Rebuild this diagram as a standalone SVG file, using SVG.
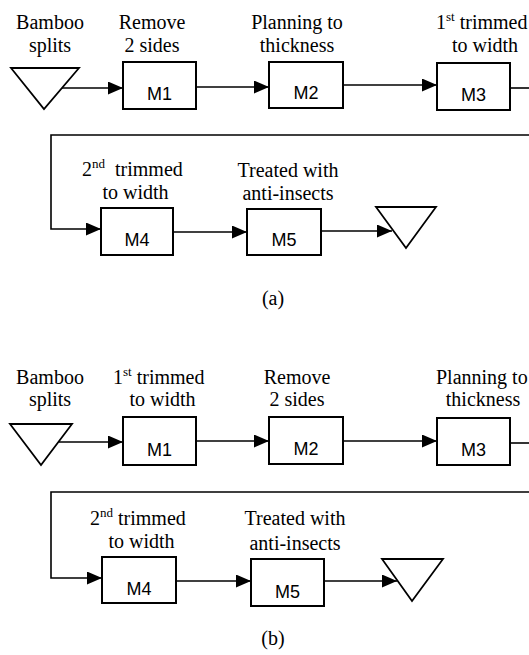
<svg xmlns="http://www.w3.org/2000/svg" width="529" height="655" viewBox="0 0 529 655">
<style>
.box{fill:#fff;stroke:#000;stroke-width:2}
.tri{fill:#fff;stroke:#000;stroke-width:1.8}
.con{fill:none;stroke:#000;stroke-width:1.6}
</style>
<defs>
<marker id="ah" markerUnits="userSpaceOnUse" markerWidth="15" markerHeight="13" refX="15" refY="6.5" orient="auto">
<path d="M0,0 L15,6.5 L0,13 z" fill="#000"/>
</marker>
</defs>
<rect width="529" height="655" fill="#fff"/>

<g id="connectors">
<line class="con" marker-end="url(#ah)" x1="62" y1="88" x2="123" y2="88"/>
<line class="con" marker-end="url(#ah)" x1="196" y1="87" x2="269" y2="87"/>
<line class="con" marker-end="url(#ah)" x1="343" y1="85" x2="437" y2="85"/>
<line class="con" x1="510" y1="88" x2="529" y2="88"/>
<polyline class="con" marker-end="url(#ah)" points="529,135 51,135 51,229 101,229"/>
<line class="con" marker-end="url(#ah)" x1="173" y1="232" x2="247" y2="232"/>
<line class="con" marker-end="url(#ah)" x1="321" y1="231" x2="392" y2="231"/>

<line class="con" marker-end="url(#ah)" x1="59" y1="442" x2="123" y2="442"/>
<line class="con" marker-end="url(#ah)" x1="196" y1="441" x2="269" y2="441"/>
<line class="con" marker-end="url(#ah)" x1="343" y1="441" x2="437" y2="441"/>
<line class="con" x1="510" y1="443" x2="529" y2="443"/>
<polyline class="con" marker-end="url(#ah)" points="529,492 51,492 51,578 102,578"/>
<line class="con" marker-end="url(#ah)" x1="176" y1="581" x2="251" y2="581"/>
<line class="con" marker-end="url(#ah)" x1="324" y1="581" x2="397" y2="581"/>
</g>

<g font-family="'Liberation Serif', 'Times New Roman', serif" font-size="20" fill="#000">
<g id="a-start">
<polygon class="tri" points="11,68 79,68 44,109"/>
<text text-anchor="middle" x="50" y="29">Bamboo</text>
<text text-anchor="middle" x="50" y="52">splits</text>
</g>
<g id="a-M1">
<rect class="box" x="123" y="62" width="73" height="47"/>
<text font-family="'Liberation Sans', Arial, sans-serif" font-size="18" text-anchor="middle" x="159.5" y="100">M1</text>
<text text-anchor="middle" x="152" y="29">Remove</text>
<text text-anchor="middle" x="152" y="52">2 sides</text>
</g>
<g id="a-M2">
<rect class="box" x="269" y="62" width="74" height="46"/>
<text font-family="'Liberation Sans', Arial, sans-serif" font-size="18" text-anchor="middle" x="306" y="99">M2</text>
<text text-anchor="middle" x="297" y="29">Planning to</text>
<text text-anchor="middle" x="297" y="52">thickness</text>
</g>
<g id="a-M3">
<rect class="box" x="437" y="63" width="73" height="47"/>
<text font-family="'Liberation Sans', Arial, sans-serif" font-size="18" text-anchor="middle" x="473.5" y="101">M3</text>
<text x="436" y="29">1<tspan font-size="13" dy="-8">st</tspan><tspan dy="8"> trimmed</tspan></text>
<text text-anchor="middle" x="485" y="52">to width</text>
</g>
<g id="a-M4">
<rect class="box" x="101" y="208" width="72" height="47"/>
<text font-family="'Liberation Sans', Arial, sans-serif" font-size="18" text-anchor="middle" x="137" y="246">M4</text>
<text x="82" y="176">2<tspan font-size="13" dy="-8">nd</tspan><tspan x="115" dy="8">trimmed</tspan></text>
<text text-anchor="middle" x="135.5" y="199">to width</text>
</g>
<g id="a-M5">
<rect class="box" x="247" y="209" width="74" height="46"/>
<text font-family="'Liberation Sans', Arial, sans-serif" font-size="18" text-anchor="middle" x="284" y="246">M5</text>
<text text-anchor="middle" x="288" y="177">Treated with</text>
<text text-anchor="middle" x="288" y="200">anti-insects</text>
</g>
<g id="a-end">
<polygon class="tri" points="376,207 436,207 406,248"/>
</g>
<text text-anchor="middle" x="273" y="305">(a)</text>

<g id="b-start">
<polygon class="tri" points="10,424 72,424 41,465"/>
<text text-anchor="middle" x="50" y="384">Bamboo</text>
<text text-anchor="middle" x="50" y="406">splits</text>
</g>
<g id="b-M1">
<rect class="box" x="123" y="417" width="73" height="48"/>
<text font-family="'Liberation Sans', Arial, sans-serif" font-size="18" text-anchor="middle" x="159.5" y="456">M1</text>
<text x="113" y="384">1<tspan font-size="13" dy="-8">st</tspan><tspan dy="8"> trimmed</tspan></text>
<text text-anchor="middle" x="162.5" y="406">to width</text>
</g>
<g id="b-M2">
<rect class="box" x="269" y="417" width="74" height="47"/>
<text font-family="'Liberation Sans', Arial, sans-serif" font-size="18" text-anchor="middle" x="306" y="455">M2</text>
<text text-anchor="middle" x="297" y="384">Remove</text>
<text text-anchor="middle" x="297" y="406">2 sides</text>
</g>
<g id="b-M3">
<rect class="box" x="437" y="418" width="73" height="47"/>
<text font-family="'Liberation Sans', Arial, sans-serif" font-size="18" text-anchor="middle" x="473.5" y="456">M3</text>
<text x="436" y="384">Planning to</text>
<text text-anchor="middle" x="483" y="406">thickness</text>
</g>
<g id="b-M4">
<rect class="box" x="102" y="557" width="74" height="46"/>
<text font-family="'Liberation Sans', Arial, sans-serif" font-size="18" text-anchor="middle" x="139" y="595">M4</text>
<text x="90" y="525">2<tspan font-size="13" dy="-8">nd</tspan><tspan dy="8"> trimmed</tspan></text>
<text text-anchor="middle" x="141.5" y="548">to width</text>
</g>
<g id="b-M5">
<rect class="box" x="251" y="559" width="73" height="47"/>
<text font-family="'Liberation Sans', Arial, sans-serif" font-size="18" text-anchor="middle" x="287.5" y="598">M5</text>
<text text-anchor="middle" x="295" y="525">Treated with</text>
<text text-anchor="middle" x="295" y="550">anti-insects</text>
</g>
<g id="b-end">
<polygon class="tri" points="382,559 443,559 412,601"/>
</g>
<text text-anchor="middle" x="273" y="645">(b)</text>
</g>
</svg>
